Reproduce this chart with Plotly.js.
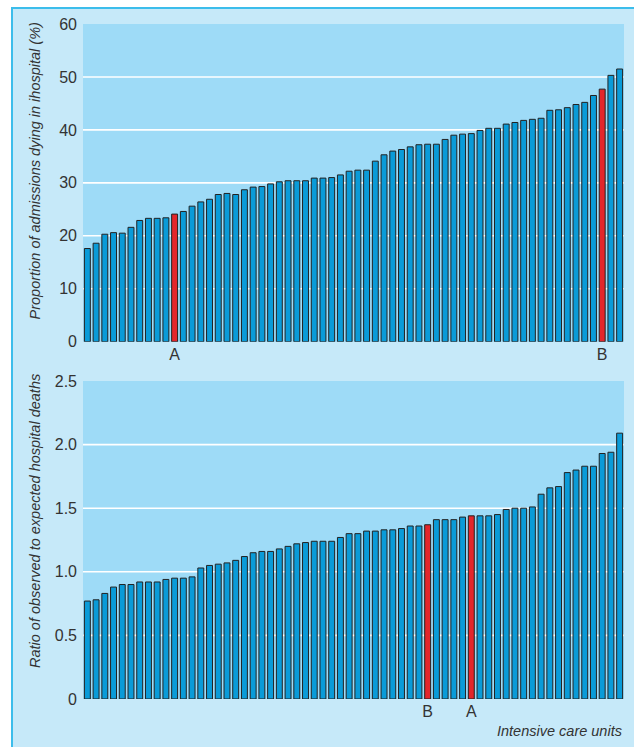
<!DOCTYPE html>
<html>
<head>
<meta charset="utf-8">
<script src="https://cdn.plot.ly/plotly-3.0.1.min.js"></script>
<style>
  html, body { margin: 0; padding: 0; background: #ffffff; }
  #frame { position: absolute; left: 11px; top: 7px; width: 623px; height: 740px;
           background: #c6e9f9; border-top: 2px solid #3cbdeb; border-left: 2px solid #3cbdeb; box-sizing: border-box; }
  #chart { position: absolute; left: 0; top: 0; width: 634px; height: 747px; }
</style>
</head>
<body>
<div id="frame"></div>
<div id="chart"></div>
<script>
// Top panel: proportion of admissions dying in hospital (%), sorted by unit
const mortalityPct = [
  17.6, 18.6, 20.3, 20.6, 20.5, 21.6, 22.9, 23.3, 23.3, 23.4,
  24.1, 24.6, 25.6, 26.4, 26.9, 27.8, 28.0, 27.8, 28.7, 29.2,
  29.3, 29.8, 30.2, 30.4, 30.4, 30.4, 30.9, 30.9, 31.0, 31.5,
  32.2, 32.4, 32.4, 34.1, 35.3, 36.0, 36.3, 36.8, 37.2, 37.3,
  37.3, 38.2, 39.0, 39.2, 39.3, 39.9, 40.3, 40.3, 41.1, 41.4,
  41.8, 42.0, 42.2, 43.7, 43.8, 44.2, 44.8, 45.2, 46.5, 47.7,
  50.3, 51.5
];
// Bottom panel: ratio of observed to expected hospital deaths, sorted by unit
const smr = [
  0.77, 0.78, 0.83, 0.88, 0.90, 0.90, 0.92, 0.92, 0.92, 0.94,
  0.95, 0.95, 0.96, 1.03, 1.05, 1.06, 1.07, 1.09, 1.12, 1.15,
  1.16, 1.16, 1.18, 1.20, 1.22, 1.23, 1.24, 1.24, 1.24, 1.27,
  1.30, 1.30, 1.32, 1.32, 1.33, 1.33, 1.34, 1.36, 1.36, 1.37,
  1.41, 1.41, 1.41, 1.43, 1.44, 1.44, 1.44, 1.45, 1.49, 1.50,
  1.50, 1.51, 1.61, 1.66, 1.67, 1.78, 1.80, 1.83, 1.83, 1.93,
  1.94, 2.09
];
// Highlighted units (position in each sorted panel) and their labels
const topLabelNames = ["A", "B"];
const topLabelIndex = [10, 59];
const bottomLabelNames = ["B", "A"];
const bottomLabelIndex = [39, 44];

const topTickVals = [0, 10, 20, 30, 40, 50, 60];
const topGridVals = [10, 20, 30, 40, 50];
const bottomTickVals = [0, 0.5, 1.0, 1.5, 2.0, 2.5];
const bottomTickText = ["0", "0.5", "1.0", "1.5", "2.0", "2.5"];
const bottomGridVals = [0.5, 1.0, 1.5, 2.0];

const topTitle = "Proportion of admissions dying in ihospital (%)";
const bottomTitle = "Ratio of observed to expected hospital deaths";
const xTitle = "Intensive care units";

const BLUE = "#0a9bd8", RED = "#e3262b", EDGE = "#222222";
const FONT = "'Liberation Sans', Arial, sans-serif";
const TXT = "#333333";

function colors(n, idx) {
  const c = [];
  for (let i = 0; i < n; i++) c.push(idx.includes(i) ? RED : BLUE);
  return c;
}

const topTrace = {
  type: "bar", y: mortalityPct, xaxis: "x", yaxis: "y",
  marker: { color: colors(mortalityPct.length, topLabelIndex), line: { color: EDGE, width: 1 } },
  hoverinfo: "y"
};
const bottomTrace = {
  type: "bar", y: smr, xaxis: "x2", yaxis: "y2",
  marker: { color: colors(smr.length, bottomLabelIndex), line: { color: EDGE, width: 1 } },
  hoverinfo: "y"
};

const n = mortalityPct.length;
const shapes = [];
topGridVals.forEach(v => shapes.push({ type: "line", xref: "x", yref: "y", x0: -0.5, x1: n - 0.5, y0: v, y1: v,
  line: { color: "#ffffff", width: 1.6 }, layer: "below" }));
bottomGridVals.forEach(v => shapes.push({ type: "line", xref: "x2", yref: "y2", x0: -0.5, x1: n - 0.5, y0: v, y1: v,
  line: { color: "#ffffff", width: 1.6 }, layer: "below" }));

const axisFont = { family: FONT, size: 16, color: TXT };
const titleFont = { family: FONT, size: 14.5, color: TXT };

const layout = {
  width: 634, height: 747,
  margin: { l: 83, r: 10, t: 24, b: 48, pad: 0 },
  paper_bgcolor: "rgba(0,0,0,0)",
  plot_bgcolor: "#9edbf7",
  showlegend: false,
  bargap: 0.32,
  font: { family: FONT, color: TXT },
  xaxis: { domain: [0, 1], anchor: "y", range: [-0.5, n - 0.5], showgrid: false, zeroline: false,
           showline: false, ticks: "", tickmode: "array", tickvals: topLabelIndex, ticktext: topLabelNames,
           tickfont: axisFont, ticklabelstandoff: 1, fixedrange: true },
  yaxis: { domain: [0.5293, 1], anchor: "x", range: [0, 60], showgrid: false, zeroline: false,
           showline: false, ticks: "", tickmode: "array", tickvals: topTickVals,
           tickfont: axisFont, ticklabelstandoff: 5, fixedrange: true },
  xaxis2: { domain: [0, 1], anchor: "y2", range: [-0.5, n - 0.5], showgrid: false, zeroline: false,
            showline: false, ticks: "", tickmode: "array", tickvals: bottomLabelIndex, ticktext: bottomLabelNames,
            tickfont: axisFont, ticklabelstandoff: 1, fixedrange: true },
  yaxis2: { domain: [0, 0.4711], anchor: "x2", range: [0, 2.5], showgrid: false, zeroline: false,
            showline: false, ticks: "", tickmode: "array", tickvals: bottomTickVals, ticktext: bottomTickText,
            tickfont: axisFont, ticklabelstandoff: 5, fixedrange: true },
  shapes: shapes,
  annotations: [
    { text: "<i>" + topTitle + "</i>", xref: "paper", yref: "paper", x: -0.0887, y: 0.7815,
      xanchor: "center", yanchor: "middle", textangle: -90, showarrow: false, font: titleFont },
    { text: "<i>" + bottomTitle + "</i>", xref: "paper", yref: "paper", x: -0.0887, y: 0.2637,
      xanchor: "center", yanchor: "middle", textangle: -90, showarrow: false, font: titleFont },
    { text: "<i>" + xTitle + "</i>", xref: "paper", yref: "paper", x: 1, y: -0.0474,
      xanchor: "right", yanchor: "middle", showarrow: false, font: titleFont }
  ]
};

Plotly.newPlot("chart", [topTrace, bottomTrace], layout, { displayModeBar: false, staticPlot: true });
</script>
</body>
</html>
